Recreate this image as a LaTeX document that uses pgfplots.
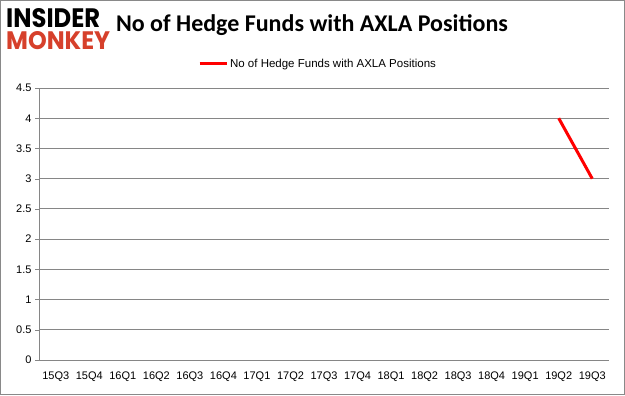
\documentclass[border=0pt]{standalone}
\usepackage{pgfplots}
\pgfplotsset{compat=1.18}
\usepackage{fontspec}
\usepackage{graphicx}
\setmainfont{Liberation Sans}
\newfontfamily\titlefont{Carlito}
\newfontfamily\logofont{Poppins}
\definecolor{logored}{RGB}{214,64,43}
\definecolor{gridgray}{RGB}{134,134,134}
\definecolor{framegray}{RGB}{137,137,137}
\begin{document}
\begin{tikzpicture}[x=1bp,y=1bp]
\draw[framegray, line width=1bp] (0.5,0.5) rectangle (624.5,394.5);
\node[anchor=north west, inner sep=0pt, align=left, font=\logofont\bfseries] at (6,387) {\resizebox{94bp}{19bp}{\color{black}INSIDER}\\[3bp]\resizebox{104bp}{18bp}{\color{logored}MONKEY}};
\node[anchor=center, inner sep=0pt] at (312,370) {\titlefont\bfseries\fontsize{24bp}{27bp}\selectfont No of Hedge Funds with AXLA Positions};
\begin{axis}[
  at={(39bp,35bp)}, anchor=south west,
  scale only axis, width=570bp, height=272bp,
  xmin=-0.5, xmax=16.5, ymin=0, ymax=4.5,
  axis x line=bottom, axis y line=left,
  axis line style={draw=gridgray, -},
  xtick={0,...,16},
  xticklabels={15Q3,15Q4,16Q1,16Q2,16Q3,16Q4,17Q1,17Q2,17Q3,17Q4,18Q1,18Q2,18Q3,18Q4,19Q1,19Q2,19Q3},
  x tick style={draw=none},
  extra x ticks={-0.5,0.5,...,16.5},
  extra x tick labels={},
  extra x tick style={tick style={draw=gridgray}, major tick length=5bp, tick align=outside},
  ytick={0,0.5,1,1.5,2,2.5,3,3.5,4,4.5},
  yticklabels={0,0.5,1,1.5,2,2.5,3,3.5,4,4.5},
  y tick style={draw=gridgray},
  major tick length=4bp, tick align=outside,
  ymajorgrids, grid style={draw=gridgray, line width=0.8bp},
  tick label style={font=\fontsize{11bp}{13bp}\selectfont, text=black},
  xticklabel style={yshift=-4bp},
  legend style={at={(0.5,1)}, anchor=south, yshift=17bp, xshift=-6bp, draw=none, fill=none,
     font=\fontsize{11.5bp}{13bp}\selectfont, inner sep=0pt, legend cell align=left,
     /tikz/every even column/.append style={column sep=2bp}},
  legend image code/.code={\draw[#1, line width=3bp] (0bp,0bp) -- (27bp,0bp);},
]
\addplot[red, line width=3bp] coordinates {(15,4) (16,3)};
\addlegendentry{No of Hedge Funds with AXLA Positions}
\end{axis}
\end{tikzpicture}
\end{document}
